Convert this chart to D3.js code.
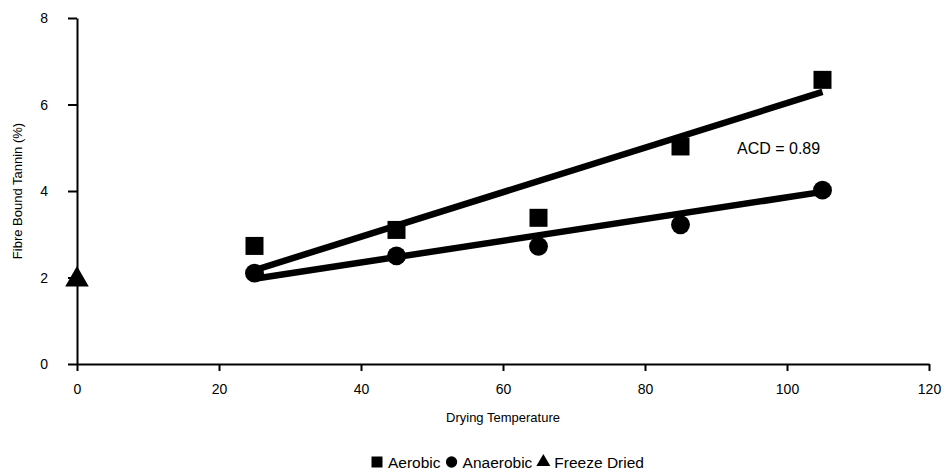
<!DOCTYPE html>
<html>
<head>
<meta charset="utf-8">
<title>Fibre Bound Tannin vs Drying Temperature</title>
<script src="https://d3js.org/d3.v7.min.js"></script>
<style>
  body { margin: 0; background: #fff; }
  text { font-family: "Liberation Sans", Arial, sans-serif; fill: #000; }
</style>
</head>
<body>
<svg width="947" height="474"></svg>
<script>
// data
var temps = [25, 45, 65, 85, 105];
var aerobic = [2.73, 3.10, 3.38, 5.03, 6.57];
var anaerobic = [2.10, 2.50, 2.72, 3.22, 4.02];
var freezeTemp = [0];
var freezeDried = [1.95];
// fitted lines (end points as drawn)
var fitX = [25, 105];
var aerobicFit = [2.17, 6.29];
var anaerobicFit = [1.97, 3.98];
var xTicks = [0, 20, 40, 60, 80, 100, 120];
var yTicks = [0, 2, 4, 6, 8];

var svg = d3.select("svg");

var x = d3.scaleLinear().domain([0, 120]).range([77, 929]);
var y = d3.scaleLinear().domain([0, 8]).range([364, 18]);

// axes
var xAxis = svg.append("g")
    .attr("transform", "translate(0," + y(0) + ")")
    .call(d3.axisBottom(x).tickValues(xTicks).tickSize(7).tickSizeOuter(0).tickPadding(13));
var yAxis = svg.append("g")
    .attr("transform", "translate(" + x(0) + ",0)")
    .call(d3.axisLeft(y).tickValues(yTicks).tickSize(9).tickSizeOuter(0).tickPadding(20));

[xAxis, yAxis].forEach(function(a) {
  a.selectAll("path, line").attr("stroke", "#000").attr("stroke-width", 2);
  a.selectAll("text").attr("font-size", 14)
    .attr("font-family", "Liberation Sans, Arial, sans-serif");
});
yAxis.selectAll("text").attr("dy", "0.35em");

svg.append("text")
    .attr("x", 503).attr("y", 422)
    .attr("text-anchor", "middle")
    .attr("font-size", 13)
    .text("Drying Temperature");

svg.append("text")
    .attr("transform", "translate(22," + y(4) + ") rotate(-90)")
    .attr("text-anchor", "middle")
    .attr("font-size", 13)
    .text("Fibre Bound Tannin (%)");

// markers
var sq = d3.symbol().type(d3.symbolSquare).size(324);
var ci = d3.symbol().type(d3.symbolCircle).size(280);
var tri = d3.symbol().type(d3.symbolTriangle).size(240);

svg.append("g").selectAll("path")
  .data(temps.map(function(t, i) { return [t, aerobic[i]]; }))
  .enter().append("path")
    .attr("d", sq)
    .attr("transform", function(d) { return "translate(" + x(d[0]) + "," + y(d[1]) + ")"; })
    .attr("fill", "#000");

svg.append("g").selectAll("path")
  .data(temps.map(function(t, i) { return [t, anaerobic[i]]; }))
  .enter().append("path")
    .attr("d", ci)
    .attr("transform", function(d) { return "translate(" + x(d[0]) + "," + y(d[1]) + ")"; })
    .attr("fill", "#000");

svg.append("g").selectAll("path")
  .data(freezeTemp.map(function(t, i) { return [t, freezeDried[i]]; }))
  .enter().append("path")
    .attr("d", tri)
    .attr("transform", function(d) { return "translate(" + x(d[0]) + "," + y(d[1]) + ")"; })
    .attr("fill", "#000");

// fit lines
var line = d3.line()
    .x(function(d) { return x(d[0]); })
    .y(function(d) { return y(d[1]); });

[aerobicFit, anaerobicFit].forEach(function(f) {
  svg.append("path")
      .datum(fitX.map(function(t, i) { return [t, f[i]]; }))
      .attr("d", line)
      .attr("fill", "none")
      .attr("stroke", "#000")
      .attr("stroke-width", 6.5);
});

svg.append("text")
    .attr("x", 737).attr("y", 154)
    .attr("font-size", 16)
    .text("ACD = 0.89");

// legend
var leg = svg.append("g").attr("transform", "translate(0,462)");
var items = [
  { sym: d3.symbolSquare, size: 121, label: "Aerobic" },
  { sym: d3.symbolCircle, size: 100, label: "Anaerobic" },
  { sym: d3.symbolTriangle, size: 85, label: "Freeze Dried" }
];
var lx = 377;
items.forEach(function(it) {
  leg.append("path")
      .attr("d", d3.symbol().type(it.sym).size(it.size))
      .attr("transform", "translate(" + lx + ",0)")
      .attr("fill", "#000");
  var t = leg.append("text")
      .attr("x", lx + 11).attr("y", 5.5)
      .attr("font-size", 15.5)
      .text(it.label);
  lx += 11 + t.node().getComputedTextLength() + 11;
});
</script>
</body>
</html>
